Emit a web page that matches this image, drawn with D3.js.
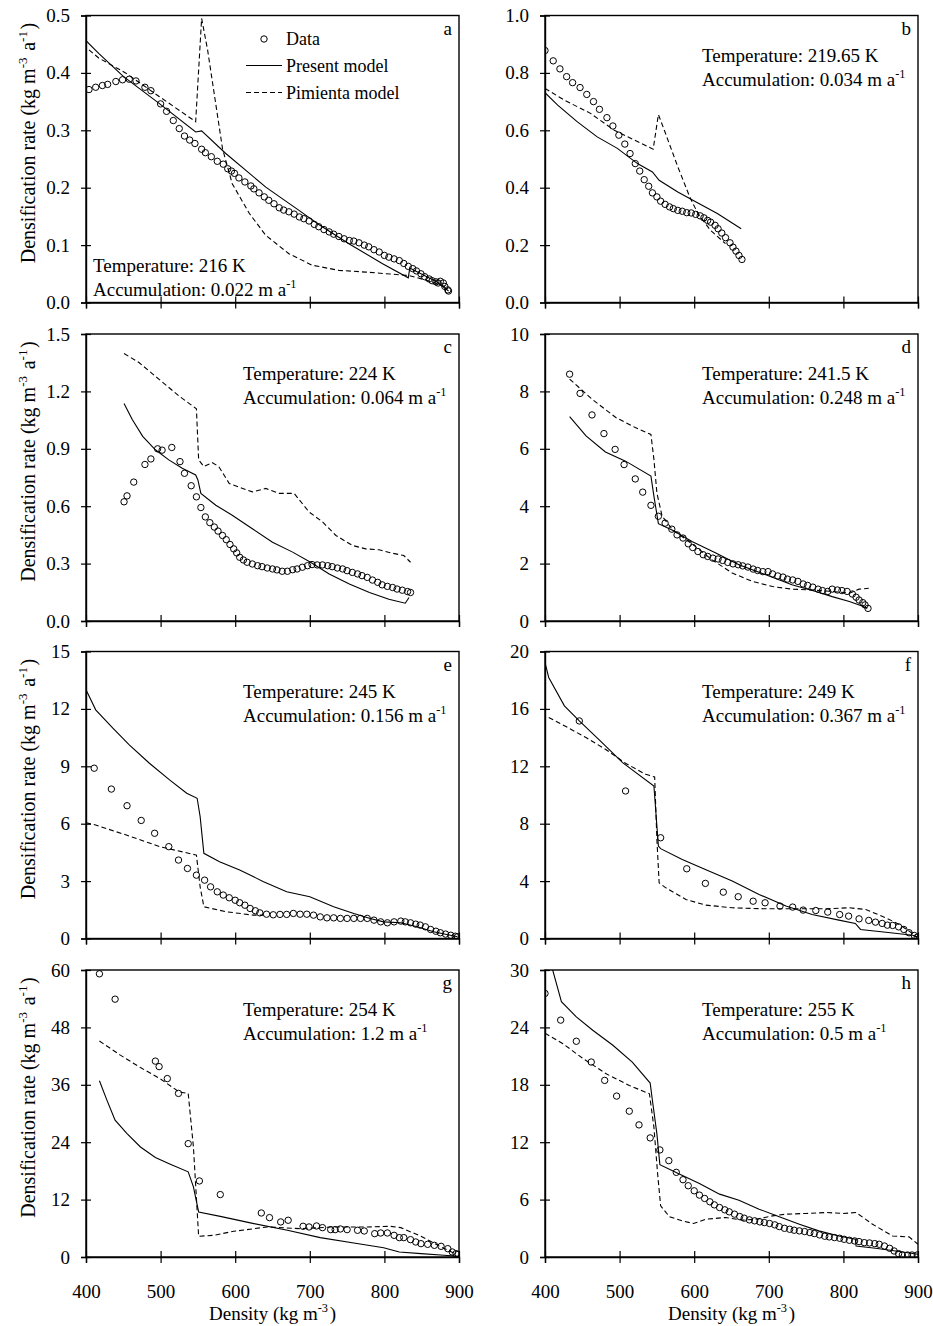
<!DOCTYPE html>
<html>
<head>
<meta charset="utf-8">
<script src="https://cdn.jsdelivr.net/npm/d3@7"></script>
<style>
  body { margin: 0; background: #fff; }
  svg { font-family: "Liberation Serif", "Times New Roman", serif; }
</style>
</head>
<body>
<div id="chart"></div>
<script>

// Panel labels, site conditions and axes
// ==============================
var panelIds = ["a", "b", "c", "d", "e", "f", "g", "h"];
var temperatures = ["216 K", "219.65 K", "224 K", "241.5 K", "245 K", "249 K", "254 K", "255 K"];
var accumulations = ["0.022", "0.034", "0.064", "0.248", "0.156", "0.367", "1.2", "0.5"];
var xTicks = [400, 500, 600, 700, 800, 900];
var yTicks = [
  [0, 0.1, 0.2, 0.3, 0.4, 0.5],
  [0, 0.2, 0.4, 0.6, 0.8, 1.0],
  [0, 0.3, 0.6, 0.9, 1.2, 1.5],
  [0, 2, 4, 6, 8, 10],
  [0, 3, 6, 9, 12, 15],
  [0, 4, 8, 12, 16, 20],
  [0, 12, 24, 36, 48, 60],
  [0, 6, 12, 18, 24, 30]
];
var legendLabels = ["Data", "Present model", "Pimienta model"];

// Data: [density, densification rate]
// ==============================
var dataA = [[404,0.371],[413,0.375],[422,0.378],[429,0.380],[440,0.385],[449,0.388],[458,0.389],[467,0.386],[479,0.375],[487,0.369],[500,0.346],[508,0.333],[517,0.317],[525,0.303],[532,0.290],[539,0.283],[546,0.277],[555,0.267],[560,0.261],[568,0.254],[576,0.246],[584,0.241],[590,0.233],[595,0.229],[599,0.225],[605,0.217],[613,0.210],[621,0.203],[625,0.198],[632,0.191],[639,0.184],[645,0.178],[652,0.172],[659,0.165],[665,0.161],[672,0.158],[679,0.154],[686,0.149],[692,0.146],[699,0.142],[706,0.136],[712,0.132],[719,0.127],[726,0.123],[732,0.119],[739,0.115],[746,0.111],[753,0.108],[759,0.107],[766,0.104],[773,0.100],[779,0.097],[786,0.092],[793,0.088],[800,0.082],[806,0.079],[813,0.076],[820,0.073],[826,0.068],[832,0.063],[838,0.059],[843,0.055],[849,0.050],[854,0.045],[860,0.041],[864,0.038],[869,0.036],[872,0.034],[875,0.037],[879,0.034],[881,0.028],[885,0.022],[886,0.020]];
var presentA = [[400,0.456],[417,0.434],[450,0.394],[498,0.347],[547,0.297],[555,0.299],[587,0.260],[641,0.201],[686,0.160],[712,0.136],[753,0.102],[797,0.068],[832,0.043],[834,0.060],[870,0.036],[886,0.020]];
var pimientaA = [[404,0.440],[417,0.426],[453,0.400],[498,0.359],[547,0.315],[555,0.495],[563,0.440],[583,0.268],[596,0.207],[619,0.155],[641,0.117],[672,0.085],[703,0.065],[739,0.056],[775,0.053],[833,0.047],[864,0.036],[882,0.027]];

var dataB = [[400,0.878],[411,0.842],[420,0.814],[429,0.787],[437,0.766],[447,0.749],[456,0.725],[465,0.700],[473,0.673],[483,0.644],[491,0.615],[499,0.583],[507,0.552],[514,0.519],[521,0.484],[527,0.458],[533,0.428],[539,0.405],[544,0.382],[550,0.368],[555,0.353],[561,0.342],[567,0.333],[572,0.327],[578,0.321],[584,0.318],[590,0.313],[596,0.312],[602,0.307],[608,0.302],[613,0.295],[618,0.286],[622,0.280],[628,0.269],[632,0.257],[637,0.242],[642,0.226],[648,0.208],[652,0.193],[656,0.179],[660,0.164],[664,0.150]];
var presentB = [[400,0.731],[417,0.688],[443,0.630],[470,0.577],[497,0.537],[524,0.484],[544,0.455],[553,0.426],[578,0.385],[605,0.347],[631,0.310],[663,0.257]];
var pimientaB = [[400,0.746],[426,0.705],[461,0.659],[493,0.600],[520,0.566],[545,0.534],[552,0.655],[560,0.600],[578,0.473],[594,0.368],[605,0.310],[622,0.251],[642,0.205]];

var dataC = [[451,0.623],[455,0.654],[464,0.726],[479,0.818],[487,0.847],[496,0.900],[502,0.893],[515,0.907],[526,0.833],[532,0.772],[541,0.707],[548,0.649],[554,0.593],[560,0.544],[566,0.514],[572,0.491],[577,0.470],[583,0.447],[588,0.425],[593,0.400],[598,0.377],[602,0.356],[606,0.333],[611,0.319],[616,0.307],[623,0.298],[630,0.289],[636,0.284],[643,0.277],[650,0.272],[656,0.267],[663,0.260],[670,0.260],[677,0.268],[683,0.272],[690,0.281],[697,0.289],[703,0.295],[710,0.293],[717,0.293],[724,0.289],[730,0.284],[737,0.277],[744,0.272],[750,0.263],[757,0.254],[764,0.246],[770,0.237],[777,0.228],[784,0.214],[791,0.202],[797,0.189],[804,0.181],[811,0.175],[817,0.167],[824,0.161],[831,0.154],[835,0.149]];
var presentC = [[451,1.137],[462,1.053],[476,0.965],[493,0.895],[511,0.842],[529,0.798],[547,0.763],[550,0.737],[554,0.667],[574,0.605],[596,0.553],[623,0.482],[650,0.412],[677,0.360],[701,0.307],[726,0.246],[753,0.193],[780,0.149],[806,0.114],[828,0.093],[833,0.123]];
var pimientaC = [[451,1.398],[471,1.351],[498,1.263],[525,1.175],[548,1.109],[551,0.842],[558,0.807],[569,0.828],[578,0.807],[592,0.719],[610,0.693],[623,0.675],[641,0.693],[659,0.667],[679,0.667],[699,0.570],[717,0.518],[735,0.447],[757,0.395],[775,0.377],[793,0.372],[811,0.354],[826,0.342],[835,0.307]];

var dataD = [[433,8.60],[447,7.93],[463,7.18],[479,6.53],[494,5.98],[506,5.45],[521,4.95],[531,4.49],[542,4.03],[552,3.65],[561,3.41],[570,3.20],[577,3.00],[585,2.89],[592,2.69],[598,2.56],[605,2.42],[612,2.31],[618,2.25],[625,2.19],[632,2.16],[638,2.11],[645,2.04],[652,1.99],[659,1.96],[665,1.92],[672,1.88],[679,1.81],[685,1.76],[692,1.72],[699,1.72],[705,1.64],[712,1.57],[719,1.53],[725,1.46],[732,1.43],[739,1.38],[746,1.29],[752,1.24],[759,1.18],[766,1.11],[772,1.06],[779,1.03],[785,1.11],[792,1.08],[798,1.06],[805,1.03],[812,0.94],[817,0.83],[821,0.73],[826,0.64],[829,0.56],[833,0.44]];
var presentD = [[433,7.12],[455,6.45],[481,5.89],[508,5.57],[542,5.05],[546,4.35],[552,3.39],[571,3.16],[597,2.77],[629,2.37],[660,1.96],[696,1.61],[731,1.26],[763,1.03],[785,0.85],[808,0.68],[825,0.52],[832,0.44]];
var pimientaD = [[433,8.43],[463,7.73],[495,7.09],[521,6.74],[542,6.50],[546,5.63],[550,4.46],[557,3.65],[571,3.18],[597,2.69],[624,2.13],[651,1.67],[678,1.38],[705,1.20],[731,1.11],[758,1.08],[785,1.03],[808,0.97],[821,1.11],[834,1.14]];

var dataE = [[411,8.90],[434,7.81],[455,6.94],[474,6.17],[492,5.50],[511,4.80],[524,4.10],[536,3.66],[548,3.31],[559,3.05],[567,2.70],[576,2.44],[584,2.27],[592,2.13],[600,2.00],[606,1.87],[613,1.74],[620,1.57],[627,1.45],[633,1.34],[642,1.27],[651,1.24],[660,1.26],[669,1.26],[678,1.31],[687,1.27],[696,1.27],[705,1.22],[714,1.13],[723,1.08],[732,1.08],[741,1.05],[750,1.05],[759,1.05],[768,1.05],[777,1.05],[786,0.96],[795,0.87],[804,0.82],[813,0.87],[822,0.91],[828,0.87],[835,0.82],[842,0.75],[848,0.70],[855,0.61],[862,0.47],[869,0.38],[875,0.30],[882,0.23],[889,0.17],[895,0.12],[898,0.09]];
var presentE = [[400,13.00],[413,11.95],[436,10.99],[458,10.12],[485,9.16],[512,8.29],[535,7.59],[549,7.33],[553,6.37],[558,4.45],[579,4.01],[606,3.58],[638,2.97],[669,2.44],[700,2.18],[732,1.66],[759,1.31],[781,1.05],[799,0.87],[822,0.82],[844,0.61],[866,0.35],[898,0.09]];
var pimientaE = [[400,6.05],[413,5.93],[454,5.41],[499,4.80],[548,4.36],[553,2.70],[558,1.66],[588,1.40],[624,1.22],[638,1.22]];

var dataF = [[446,15.16],[508,10.28],[555,7.02],[590,4.86],[615,3.84],[639,3.23],[659,2.91],[679,2.60],[695,2.49],[715,2.26],[732,2.19],[746,1.98],[763,1.95],[779,1.84],[795,1.67],[807,1.56],[821,1.37],[834,1.26],[843,1.14],[852,1.05],[859,0.93],[866,0.91],[874,0.81],[881,0.63],[888,0.40],[895,0.21],[899,0.09]];
var presentF = [[400,19.23],[405,18.19],[426,16.21],[446,15.16],[472,13.88],[504,12.26],[546,10.63],[552,6.44],[555,6.26],[584,5.51],[615,4.81],[651,4.00],[687,3.07],[723,2.26],[758,1.67],[794,1.28],[816,1.05],[823,0.63],[857,0.44],[893,0.23],[899,0.09]];
var pimientaF = [[405,15.40],[428,14.77],[455,14.00],[481,13.19],[508,12.21],[535,11.44],[547,11.26],[550,6.90],[553,3.88],[562,3.53],[589,2.72],[615,2.33],[651,2.14],[696,2.07],[741,2.07],[776,2.07],[808,2.14],[830,2.02],[857,1.44],[875,0.98],[893,0.33],[899,0.09]];

var dataG = [[418,59.2],[439,53.9],[493,40.95],[498,39.8],[509,37.3],[524,34.2],[537,23.7],[552,15.9],[580,13.05],[635,9.2],[646,8.23],[661,7.33],[671,7.68],[691,6.42],[699,6.28],[709,6.49],[717,6.14],[728,5.72],[734,5.72],[741,5.86],[750,5.72],[764,5.58],[773,5.44],[787,4.88],[795,5.02],[804,5.02],[813,4.53],[820,4.05],[826,4.05],[835,3.63],[842,3.14],[849,2.79],[858,2.65],[867,2.44],[876,2.23],[885,1.74],[891,1.05],[896,0.70],[899,0.56]];
var presentG = [[418,36.84],[428,32.8],[439,28.6],[455,25.8],[473,23.0],[493,20.8],[513,19.4],[537,17.8],[544,14.65],[551,9.42],[580,8.5],[625,6.98],[670,5.58],[714,4.05],[759,2.93],[799,1.95],[815,1.26],[820,1.05],[849,0.70],[880,0.35],[900,0.14]];
var pimientaG = [[418,45.15],[446,42.2],[473,39.6],[499,37.3],[525,34.5],[537,34.2],[544,23.0],[551,4.33],[571,4.53],[598,5.37],[643,6.28],[687,5.93],[732,6.28],[777,6.28],[808,6.42],[822,6.14],[849,4.33],[876,2.09],[893,0.84]];

var dataH = [[400,27.55],[421,24.76],[442,22.55],[462,20.38],[480,18.46],[496,16.82],[513,15.24],[526,13.81],[541,12.45],[554,11.19],[566,10.07],[576,8.85],[585,8.08],[592,7.45],[600,6.92],[607,6.47],[614,6.12],[621,5.77],[627,5.45],[634,5.17],[641,4.93],[647,4.72],[654,4.48],[661,4.23],[667,4.06],[674,3.88],[681,3.78],[688,3.67],[694,3.60],[701,3.50],[708,3.36],[714,3.18],[721,3.00],[728,2.90],[734,2.80],[741,2.73],[748,2.66],[755,2.55],[761,2.45],[768,2.31],[775,2.17],[781,2.10],[788,2.03],[795,1.96],[801,1.85],[808,1.75],[815,1.68],[821,1.61],[828,1.50],[835,1.47],[842,1.40],[848,1.33],[855,1.15],[862,0.91],[868,0.63],[874,0.35],[879,0.21],[886,0.21],[892,0.21],[899,0.21]];
var presentH = [[405,31.5],[422,26.68],[442,25.1],[464,23.7],[491,22.13],[517,20.38],[541,18.18],[544,16.36],[550,12.87],[554,9.65],[580,8.67],[607,7.69],[634,6.57],[660,5.94],[687,5.00],[714,4.20],[741,3.43],[767,2.73],[794,2.20],[816,1.85],[817,1.15],[843,0.91],[870,0.63],[900,0.28]];
var pimientaH = [[400,23.4],[424,22.3],[450,20.8],[482,19.15],[513,17.93],[540,17.06],[546,13.57],[551,8.67],[555,5.35],[567,4.20],[584,3.78],[599,3.50],[616,3.95],[642,4.13],[665,3.85],[683,3.95],[705,4.30],[723,4.48],[750,4.55],[777,4.65],[799,4.55],[817,4.65],[839,3.43],[866,2.20],[888,2.10],[900,1.33]];

var dataSets = [dataA, dataB, dataC, dataD, dataE, dataF, dataG, dataH];
var presentSets = [presentA, presentB, presentC, presentD, presentE, presentF, presentG, presentH];
var pimientaSets = [pimientaA, pimientaB, pimientaC, pimientaD, pimientaE, pimientaF, pimientaG, pimientaH];

// Layout
// ==============================
var svgWidth = 933;
var svgHeight = 1326;
var colLeft = [86, 545];
var rowTop = [15.5, 334, 651.5, 970];
var plotWidth = 373;
var plotHeight = 287;

var svg = d3.select("#chart").append("svg")
  .attr("width", svgWidth)
  .attr("height", svgHeight);

// writes text parts, a part with sup: true is drawn as a superscript
function supText(textSel, parts, size) {
  parts.forEach(function(p) {
    if (p.sup) {
      textSel.append("tspan").attr("dy", -size * 0.4).attr("font-size", size * 0.65).text(p.t);
      textSel.append("tspan").attr("dy", size * 0.4).text("\u200A");
    } else {
      textSel.append("tspan").text(p.t);
    }
  });
}

panelIds.forEach(function(id, i) {
  var col = i % 2;
  var row = Math.floor(i / 2);
  var yMax = yTicks[i][yTicks[i].length - 1];

  var g = svg.append("g")
    .attr("transform", `translate(${colLeft[col]}, ${rowTop[row]})`);

  var xScale = d3.scaleLinear().domain([400, 900]).range([0, plotWidth]);
  var yScale = d3.scaleLinear().domain([0, yMax]).range([plotHeight, 0]);

  g.append("clipPath").attr("id", "clip" + id)
    .append("rect").attr("width", plotWidth).attr("height", plotHeight);

  // frame
  g.append("rect")
    .attr("width", plotWidth)
    .attr("height", plotHeight)
    .attr("fill", "none")
    .attr("stroke", "#000")
    .attr("stroke-width", 1.4);

  // axes with ticks crossing the axis line
  var fmt = yMax < 2 ? d3.format(".1f") : d3.format("d");
  var leftAxis = d3.axisLeft(yScale).tickValues(yTicks[i]).tickFormat(fmt).tickSize(5).tickPadding(11);
  var bottomAxis = d3.axisBottom(xScale).tickValues(xTicks).tickSize(6).tickPadding(22)
    .tickFormat(row === 3 ? d3.format("d") : "");

  g.append("g").call(leftAxis)
    .call(a => a.select(".domain").attr("stroke-width", 1.4))
    .call(a => a.selectAll(".tick line").attr("x1", 5).attr("stroke-width", 1.2))
    .call(a => a.selectAll("text").attr("font-size", 19).attr("font-family", "Liberation Serif").attr("fill", "#000"));

  g.append("g").attr("transform", `translate(0, ${plotHeight})`).call(bottomAxis)
    .call(a => a.select(".domain").attr("stroke-width", 1.4))
    .call(a => a.selectAll(".tick line").attr("y1", -6).attr("stroke-width", 1.2))
    .call(a => a.selectAll("text").attr("font-size", 19).attr("font-family", "Liberation Serif").attr("fill", "#000"));

  // model lines
  var line = d3.line().x(d => xScale(d[0])).y(d => yScale(d[1]));
  var marks = g.append("g").attr("clip-path", `url(#clip${id})`);

  marks.append("path")
    .datum(pimientaSets[i])
    .attr("d", line)
    .attr("fill", "none")
    .attr("stroke", "#000")
    .attr("stroke-width", 1.1)
    .attr("stroke-dasharray", "5,3");

  marks.append("path")
    .datum(presentSets[i])
    .attr("d", line)
    .attr("fill", "none")
    .attr("stroke", "#000")
    .attr("stroke-width", 1.1);

  // measured data
  marks.selectAll("circle")
    .data(dataSets[i])
    .enter()
    .append("circle")
    .attr("cx", d => xScale(d[0]))
    .attr("cy", d => yScale(d[1]))
    .attr("r", 3.2)
    .attr("fill", "none")
    .attr("stroke", "#000")
    .attr("stroke-width", 1);

  // panel letter
  g.append("text")
    .attr("x", plotWidth - 7)
    .attr("y", 19)
    .attr("text-anchor", "end")
    .attr("font-size", 19)
    .text(id);

  // temperature / accumulation
  var annX = i === 0 ? 7 : 157;
  var annY = i === 0 ? 256 : 46;
  g.append("text")
    .attr("x", annX)
    .attr("y", annY)
    .attr("font-size", 19)
    .text("Temperature: " + temperatures[i]);
  var acc = g.append("text")
    .attr("x", annX)
    .attr("y", annY + 24)
    .attr("font-size", 19);
  supText(acc, [{t: "Accumulation: " + accumulations[i] + " m a"}, {t: "-1", sup: true}], 19);

  // legend, first panel only
  if (i === 0) {
    var lg = g.append("g");
    lg.append("circle").attr("cx", 178).attr("cy", 23.5).attr("r", 3.2)
      .attr("fill", "none").attr("stroke", "#000").attr("stroke-width", 1);
    lg.append("line").attr("x1", 160).attr("x2", 196).attr("y1", 50).attr("y2", 50)
      .attr("stroke", "#000").attr("stroke-width", 1.1);
    lg.append("line").attr("x1", 160).attr("x2", 196).attr("y1", 77).attr("y2", 77)
      .attr("stroke", "#000").attr("stroke-width", 1.1).attr("stroke-dasharray", "5,3");
    lg.selectAll("text")
      .data(legendLabels)
      .enter()
      .append("text")
      .attr("x", 200)
      .attr("y", (d, k) => 29 + k * 27)
      .attr("font-size", 18)
      .text(d => d);
  }

  // axis titles
  if (col === 0) {
    var yt = g.append("text")
      .attr("transform", `translate(${-51}, ${plotHeight / 2 - 16}) rotate(-90)`)
      .attr("text-anchor", "middle")
      .attr("font-size", 20);
    supText(yt, [{t: "Densification rate (kg m"}, {t: "-3", sup: true}, {t: " a"}, {t: "-1", sup: true}, {t: ")"}], 20);
  }
  if (row === 3) {
    var xt = g.append("text")
      .attr("x", plotWidth / 2)
      .attr("y", plotHeight + 63)
      .attr("text-anchor", "middle")
      .attr("font-size", 19);
    supText(xt, [{t: "Density (kg m"}, {t: "-3", sup: true}, {t: ")"}], 19);
  }
});

</script>
</body>
</html>
